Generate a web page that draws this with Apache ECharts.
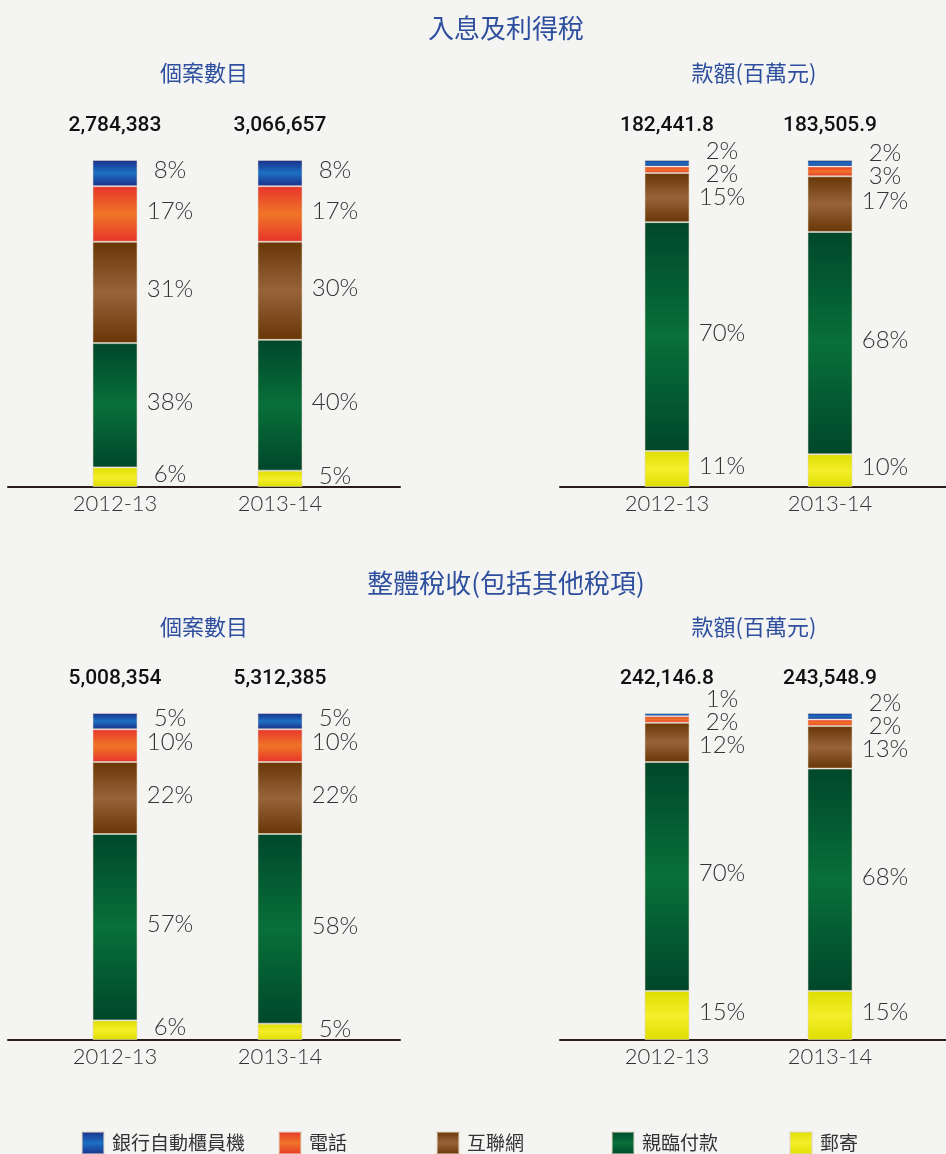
<!DOCTYPE html>
<html>
<head>
<meta charset="utf-8">
<script src="https://cdn.jsdelivr.net/npm/echarts@6/dist/echarts.min.js"></script>
<style>
html, body { margin: 0; padding: 0; background: #f4f4f3; }
#main { width: 946px; height: 1154px; }
</style>
</head>
<body>
<div id="main"></div>
<script>
// 年度
var years = ['2012-13', '2013-14'];
// 繳稅途徑 (由上至下)
var channels = ['銀行自動櫃員機', '電話', '互聯網', '親臨付款', '郵寄'];

// 入息及利得稅 - 個案數目
var incCaseTotals = ['2,784,383', '3,066,657'];
var incCaseAtm = [8, 8];
var incCasePhone = [17, 17];
var incCaseNet = [31, 30];
var incCaseCounter = [38, 40];
var incCasePost = [6, 5];

// 入息及利得稅 - 款額(百萬元)
var incAmtTotals = ['182,441.8', '183,505.9'];
var incAmtAtm = [2, 2];
var incAmtPhone = [2, 3];
var incAmtNet = [15, 17];
var incAmtCounter = [70, 68];
var incAmtPost = [11, 10];

// 整體稅收 - 個案數目
var allCaseTotals = ['5,008,354', '5,312,385'];
var allCaseAtm = [5, 5];
var allCasePhone = [10, 10];
var allCaseNet = [22, 22];
var allCaseCounter = [57, 58];
var allCasePost = [6, 5];

// 整體稅收 - 款額(百萬元)
var allAmtTotals = ['242,146.8', '243,548.9'];
var allAmtAtm = [1, 2];
var allAmtPhone = [2, 2];
var allAmtNet = [12, 13];
var allAmtCounter = [70, 68];
var allAmtPost = [15, 15];

var myChart = echarts.init(document.getElementById('main'));

var panels = [
    {totals: incCaseTotals, values: [incCaseAtm, incCasePhone, incCaseNet, incCaseCounter, incCasePost]},
    {totals: incAmtTotals, values: [incAmtAtm, incAmtPhone, incAmtNet, incAmtCounter, incAmtPost]},
    {totals: allCaseTotals, values: [allCaseAtm, allCasePhone, allCaseNet, allCaseCounter, allCasePost]},
    {totals: allAmtTotals, values: [allAmtAtm, allAmtPhone, allAmtNet, allAmtCounter, allAmtPost]}
];

// 版面
var BAR_H = 327;
var barGrids = [
    {left: 32.5, width: 330, top: 160, height: BAR_H},
    {left: 585.5, width: 326, top: 160, height: BAR_H},
    {left: 32.5, width: 330, top: 713, height: BAR_H},
    {left: 585.5, width: 326, top: 713, height: BAR_H}
];
var lineGrids = [
    {left: 8, width: 392, top: 160, height: BAR_H},
    {left: 560, width: 386, top: 160, height: BAR_H},
    {left: 8, width: 392, top: 713, height: BAR_H},
    {left: 560, width: 386, top: 713, height: BAR_H}
];

var palette = {
    '銀行自動櫃員機': ['#1b2e8a', '#1b70c2'],
    '電話': ['#e8342b', '#ef7528'],
    '互聯網': ['#683606', '#98633a'],
    '親臨付款': ['#00472a', '#08703a'],
    '郵寄': ['#dede00', '#f4ee2a']
};

function grad(c) {
    return new echarts.graphic.LinearGradient(0, 0, 0, 1, [
        {offset: 0, color: c[0]},
        {offset: 0.5, color: c[1]},
        {offset: 1, color: c[0]}
    ]);
}

// 標籤重疊時平均分開
var LABEL_GAP = 23;
var LABEL_LIFT = -3;
function spreadLabels(values) {
    var unit = BAR_H / 100;
    var top = 0;
    var centers = values.map(function (v) {
        var c = top + v * unit / 2;
        top += v * unit;
        return c;
    });
    var groups = [];
    centers.forEach(function (c, i) {
        groups.push({sum: c, idx: [i]});
        while (groups.length > 1) {
            var b = groups[groups.length - 1];
            var a = groups[groups.length - 2];
            var aEnd = a.sum / a.idx.length + (a.idx.length - 1) * LABEL_GAP / 2;
            var bStart = b.sum / b.idx.length - (b.idx.length - 1) * LABEL_GAP / 2;
            if (bStart - aEnd >= LABEL_GAP) break;
            a.sum += b.sum;
            a.idx = a.idx.concat(b.idx);
            groups.pop();
        }
    });
    var want = [];
    groups.forEach(function (g) {
        var n = g.idx.length;
        var start = g.sum / n - (n - 1) * LABEL_GAP / 2;
        g.idx.forEach(function (i, k) { want[i] = start + k * LABEL_GAP; });
    });
    return centers.map(function (c, i) { return want[i] - c + LABEL_LIFT; });
}

var grids = barGrids.concat(lineGrids);
var xAxes = [];
var yAxes = [];
var series = [];

barGrids.forEach(function (g, p) {
    xAxes.push({
        type: 'category', gridIndex: p, data: years,
        axisLine: {show: false}, axisTick: {show: false},
        axisLabel: {fontSize: 22, fontFamily: 'Lato', fontWeight: 300, color: '#333', margin: 6}
    });
    xAxes.push({
        type: 'category', gridIndex: p, position: 'top', data: panels[p].totals,
        axisLine: {show: false}, axisTick: {show: false},
        axisLabel: {fontSize: 21, fontFamily: 'Roboto', fontWeight: 500, color: '#111', margin: 24}
    });
    yAxes.push({type: 'value', gridIndex: p, min: 0, max: 100, show: false});
});

lineGrids.forEach(function (g, p) {
    xAxes.push({
        type: 'value', gridIndex: 4 + p, min: 0, max: 1,
        axisLine: {show: true, lineStyle: {color: '#2b1c1c', width: 2}},
        axisTick: {show: false}, axisLabel: {show: false}, splitLine: {show: false}
    });
    yAxes.push({type: 'value', gridIndex: 4 + p, min: 0, max: 1, show: false});
});

panels.forEach(function (panel, p) {
    var offsets = years.map(function (y, i) {
        return spreadLabels(panel.values.map(function (arr) { return arr[i]; }));
    });
    // 由底部開始疊
    for (var k = channels.length - 1; k >= 0; k--) {
        var name = channels[k];
        series.push({
            name: name,
            type: 'bar',
            stack: 'p' + p,
            xAxisIndex: p * 2,
            yAxisIndex: p,
            barWidth: 45,
            itemStyle: {color: grad(palette[name]), borderColor: 'rgba(225,215,195,0.55)', borderWidth: 1},
            label: {
                show: true, position: 'inside', formatter: '{c}%',
                fontSize: 24, fontFamily: 'Lato', fontWeight: 300, color: '#333'
            },
            data: panel.values[k].map(function (v, i) {
                return {value: v, label: {offset: [55, offsets[i][k]]}};
            })
        });
    }
});

var titleColor = '#2e4f9e';
var titles = [
    {text: '入息及利得稅', left: 506, top: 15, fontSize: 26},
    {text: '個案數目', left: 204, top: 62, fontSize: 22},
    {text: '款額(百萬元)', left: 754, top: 62, fontSize: 22},
    {text: '整體稅收(包括其他稅項)', left: 506, top: 570, fontSize: 26},
    {text: '個案數目', left: 204, top: 616, fontSize: 22},
    {text: '款額(百萬元)', left: 754, top: 616, fontSize: 22}
].map(function (t) {
    return {
        text: t.text, left: t.left, top: t.top, textAlign: 'center', padding: 0,
        textStyle: {fontSize: t.fontSize, fontWeight: 'normal', color: titleColor, fontFamily: 'Noto Sans CJK TC'}
    };
});

var legendLeft = [81, 278, 436, 611, 789];
var legends = channels.map(function (name, i) {
    return {
        data: [name], left: legendLeft[i], top: 1131, padding: 0,
        icon: 'rect', itemWidth: 22, itemHeight: 22,
        textStyle: {fontSize: 19, color: '#333', fontFamily: 'Noto Sans CJK TC', padding: [0, 0, 0, 3]}
    };
});

var option = {
    backgroundColor: '#f4f4f3',
    animation: false,
    title: titles,
    legend: legends,
    grid: grids,
    xAxis: xAxes,
    yAxis: yAxes,
    series: series
};

myChart.setOption(option);
</script>
</body>
</html>
